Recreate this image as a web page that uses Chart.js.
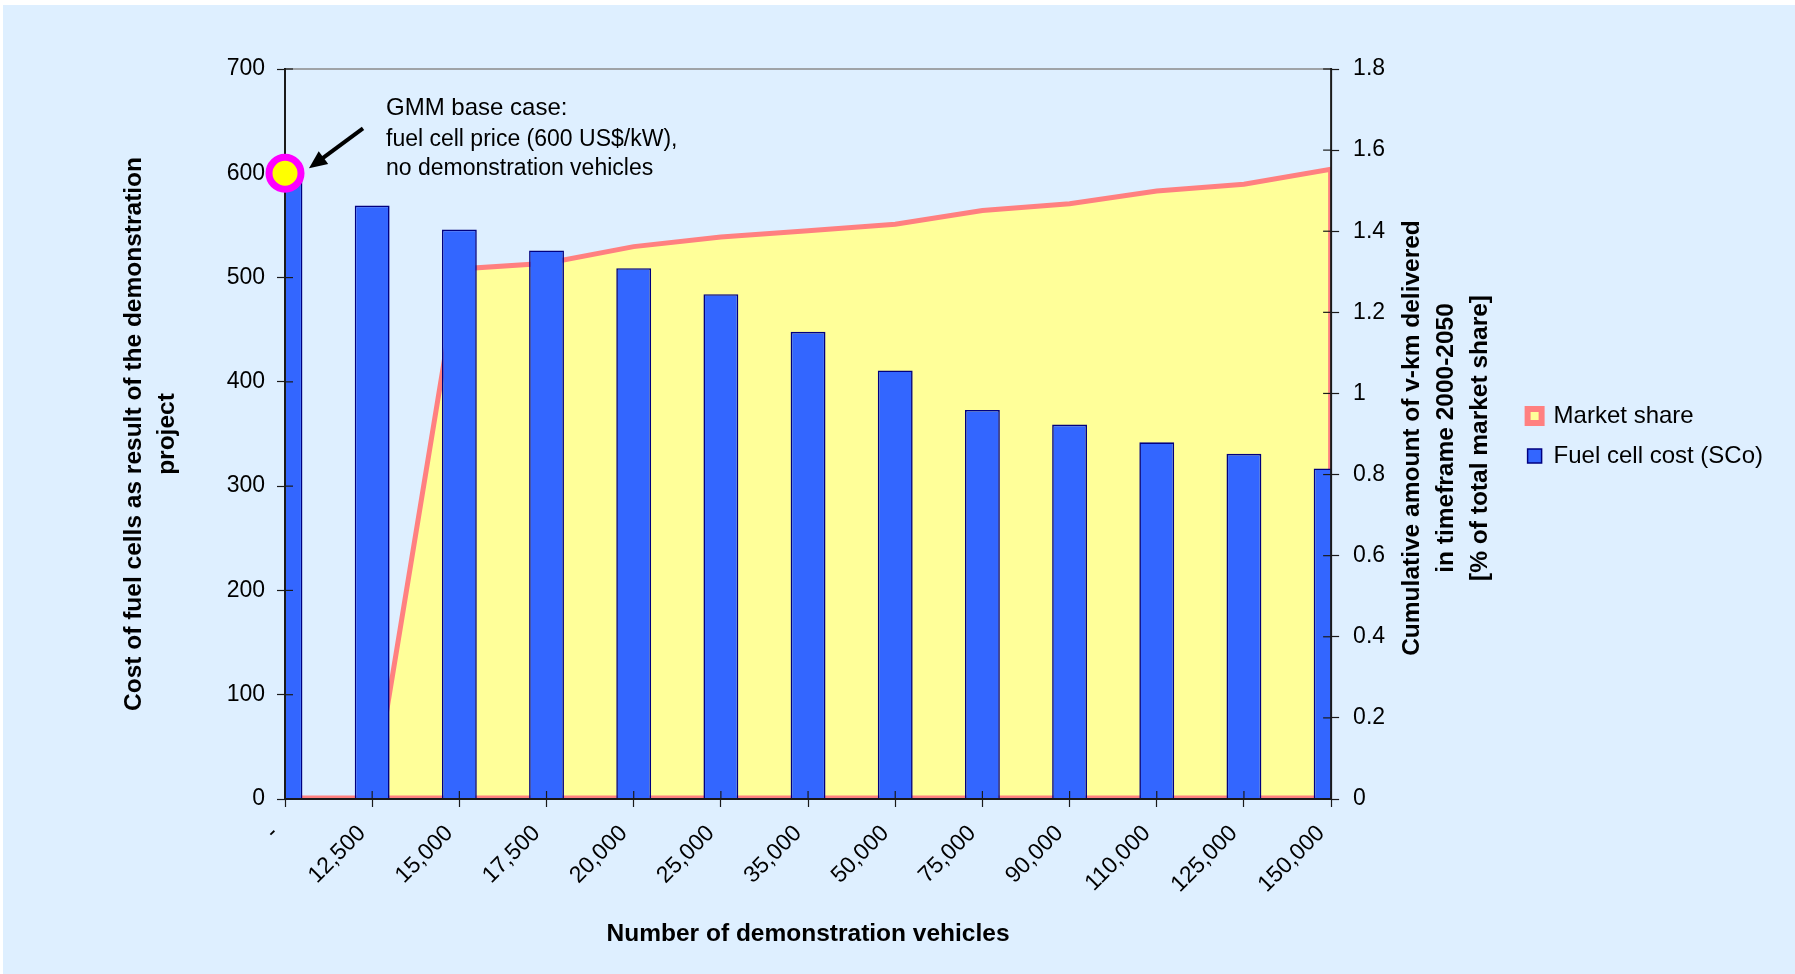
<!DOCTYPE html>
<html>
<head>
<meta charset="utf-8">
<title>Fuel cell cost vs. demonstration vehicles</title>
<script src="https://cdn.jsdelivr.net/npm/chart.js@4.4.1/dist/chart.umd.min.js"></script>
<style>
  body { margin: 0; background: #fff; }
  canvas { display: block; }
</style>
</head>
<body>
<canvas id="myChart" width="1795" height="974"></canvas>
<script>
// number of demonstration vehicles
const categories = ['-', '12,500', '15,000', '17,500', '20,000', '25,000', '35,000', '50,000', '75,000', '90,000', '110,000', '125,000', '150,000'];

// fuel cell cost (US$/kW), left axis
const fuelCellCost = [600, 569, 546, 526, 509, 484, 448, 411, 373, 359, 342, 331, 317];

// cumulative v-km share 2000-2050 (%), right axis
const marketShare = [0, 0, 1.307, 1.321, 1.362, 1.386, 1.401, 1.417, 1.451, 1.468, 1.499, 1.516, 1.553];

// GMM base case marker: 600 US$/kW with no demonstration vehicles
const baseCase = [600, null, null, null, null, null, null, null, null, null, null, null, null];

const costTicks = [0, 100, 200, 300, 400, 500, 600, 700];
const shareTicks = [0, 0.2, 0.4, 0.6, 0.8, 1, 1.2, 1.4, 1.6, 1.8];

const rightTitle = ['Cumulative amount of v-km delivered', 'in timeframe 2000-2050', '[% of total market share]'];

const FONT = '"Liberation Sans", Arial, Helvetica, sans-serif';
const BG = '#DEEFFF';
const BAR = '#3366FF';
const BAR_EDGE = '#000080';
const AREA = '#FFFF99';
const LINE = '#FF8080';
const AXIS = '#1a1a1a';

Chart.defaults.font.family = FONT;
Chart.defaults.color = '#000';

const line = (ctx, x1, y1, x2, y2) => {
    ctx.beginPath();
    ctx.moveTo(x1, y1);
    ctx.lineTo(x2, y2);
    ctx.stroke();
};

// axes, top edge and the inner half of the tick marks
const drawFrame = (chart) => {
    const { ctx, chartArea: a, scales } = chart;
    ctx.save();
    ctx.lineCap = 'butt';
    ctx.strokeStyle = '#8a8a8a';
    ctx.lineWidth = 1.5;
    line(ctx, a.left, a.top, a.right, a.top);

    ctx.strokeStyle = AXIS;
    ctx.lineWidth = 2;
    line(ctx, a.left, a.top - 1, a.left, a.bottom + 1);
    line(ctx, a.right, a.top - 1, a.right, a.bottom + 1);
    line(ctx, a.left, a.bottom, a.right, a.bottom);

    ctx.lineWidth = 1.2;
    costTicks.forEach((v) => {
        const py = scales.y.getPixelForValue(v);
        line(ctx, a.left, py, a.left + 8, py);
    });
    shareTicks.forEach((v) => {
        const py = scales.y1.getPixelForValue(v);
        line(ctx, a.right - 8, py, a.right, py);
    });
    categories.forEach((c, i) => {
        const px = scales.x.getPixelForValue(i);
        line(ctx, px, a.bottom - 8, px, a.bottom);
    });
    ctx.restore();
};

const chartDecor = {
    id: 'chartDecor',
    beforeDraw(chart) {
        const ctx = chart.ctx;
        ctx.save();
        ctx.fillStyle = '#fff';
        ctx.fillRect(0, 0, chart.width, chart.height);
        ctx.fillStyle = BG;
        ctx.fillRect(3, 5, chart.width - 3, chart.height - 5);
        ctx.restore();
    },
    afterDatasetDraw(chart, args) {
        const { ctx, chartArea: a, scales } = chart;
        if (args.meta.label === 'Market share') {
            // outline of the area along the base and the right edge
            const y0 = scales.y1.getPixelForValue(0);
            const yEnd = scales.y1.getPixelForValue(marketShare[marketShare.length - 1]);
            ctx.save();
            ctx.strokeStyle = LINE;
            ctx.lineWidth = 2.6;
            line(ctx, a.left, y0 - 2.2, a.right, y0 - 2.2);
            ctx.lineWidth = 3;
            line(ctx, a.right - 1.5, y0, a.right - 1.5, yEnd);
            ctx.restore();
        }
        if (args.meta.label === 'Fuel cell cost (SCo)') {
            drawFrame(chart);
        }
    },
    afterDraw(chart) {
        const { ctx, scales } = chart;
        const y1 = scales.y1;
        ctx.save();
        ctx.fillStyle = '#000';

        // right axis title, reading upwards
        const cy = (y1.top + y1.bottom) / 2 + 4;
        ctx.font = 'bold 24.5px ' + FONT;
        ctx.textAlign = 'center';
        ctx.textBaseline = 'middle';
        rightTitle.forEach((t, i) => {
            ctx.save();
            ctx.translate(y1.left + 81 + i * 34, cy);
            ctx.rotate(-Math.PI / 2);
            ctx.fillText(t, 0, 0);
            ctx.restore();
        });

        // base case note with arrow
        const px = scales.x.getPixelForValue(0);
        const py = scales.y.getPixelForValue(baseCase[0]);
        ctx.textAlign = 'left';
        ctx.textBaseline = 'alphabetic';
        ctx.font = '24px ' + FONT;
        ctx.fillText('GMM base case:', px + 101, py - 58);
        ctx.font = '23px ' + FONT;
        ctx.fillText('fuel cell price (600 US$/kW),', px + 101, py - 27);
        ctx.fillText('no demonstration vehicles', px + 101, py + 2);

        const tail = { x: px + 78, y: py - 45 };
        const tip = { x: px + 24, y: py - 5 };
        const ang = Math.atan2(tip.y - tail.y, tip.x - tail.x);
        const ux = Math.cos(ang), uy = Math.sin(ang);
        ctx.strokeStyle = '#000';
        ctx.lineWidth = 4;
        line(ctx, tail.x, tail.y, tip.x - ux * 12, tip.y - uy * 12);
        ctx.beginPath();
        ctx.moveTo(tip.x, tip.y);
        ctx.lineTo(tip.x - ux * 18 - uy * 8, tip.y - uy * 18 + ux * 8);
        ctx.lineTo(tip.x - ux * 18 + uy * 8, tip.y - uy * 18 - ux * 8);
        ctx.closePath();
        ctx.fill();
        ctx.restore();
    }
};

const gridOpts = {
    drawOnChartArea: false,
    drawTicks: true,
    tickLength: 8,
    tickColor: AXIS,
    tickWidth: 1.2,
    offset: false
};

const ctx = document.getElementById('myChart');

const myChart = new Chart(ctx, {
    type: 'bar',
    data: {
        labels: categories,
        datasets: [
            {
                type: 'line',
                label: 'Market share',
                data: marketShare,
                yAxisID: 'y1',
                borderColor: LINE,
                borderWidth: 5,
                backgroundColor: AREA,
                fill: 'origin',
                pointRadius: 0,
                tension: 0,
                clip: { left: 0, top: 5, right: 0, bottom: 0 },
                order: 3
            },
            {
                label: 'Fuel cell cost (SCo)',
                data: fuelCellCost,
                yAxisID: 'y',
                backgroundColor: BAR,
                borderColor: BAR_EDGE,
                borderWidth: 1.6,
                borderSkipped: 'start',
                categoryPercentage: 1,
                barPercentage: 0.4,
                order: 2
            },
            {
                type: 'line',
                label: 'GMM base case',
                data: baseCase,
                yAxisID: 'y',
                showLine: false,
                pointRadius: 16,
                pointBorderWidth: 7,
                pointBackgroundColor: '#FFFF00',
                pointBorderColor: '#FF00FF',
                clip: false,
                order: 1
            }
        ]
    },
    options: {
        responsive: false,
        devicePixelRatio: 1,
        animation: false,
        events: [],
        layout: { padding: { left: 10, right: 22, top: 69, bottom: 10 } },
        scales: {
            x: {
                offset: false,
                grid: gridOpts,
                border: { display: false },
                ticks: {
                    autoSkip: false,
                    minRotation: 45,
                    maxRotation: 45,
                    padding: 13,
                    labelOffset: -10,
                    font: { size: 23 }
                },
                title: {
                    display: true,
                    text: 'Number of demonstration vehicles',
                    font: { size: 24.5, weight: 'bold' },
                    padding: { top: 0, bottom: 15 }
                },
                afterFit: (s) => { s.height = 165; }
            },
            y: {
                position: 'left',
                min: 0,
                max: 700,
                grid: gridOpts,
                border: { display: false },
                afterBuildTicks: (s) => { s.ticks = costTicks.map((v) => ({ value: v })); },
                ticks: {
                    padding: 12,
                    font: { size: 23 },
                    callback: (v) => String(v)
                },
                title: {
                    display: true,
                    text: ['Cost of fuel cells as result of the demonstration', 'project'],
                    font: { size: 24.5, weight: 'bold', lineHeight: 33 / 24.5 },
                    padding: { top: 107.5, bottom: 0 }
                },
                afterFit: (s) => { s.width = 275; }
            },
            y1: {
                position: 'right',
                min: 0,
                max: 1.8,
                grid: gridOpts,
                border: { display: false },
                afterBuildTicks: (s) => { s.ticks = shareTicks.map((v) => ({ value: v })); },
                ticks: {
                    padding: 14,
                    font: { size: 23 },
                    callback: (v) => String(Math.round(v * 10) / 10)
                },
                afterFit: (s) => { s.width = 180.5; }
            }
        },
        plugins: {
            tooltip: { enabled: false },
            legend: {
                position: 'right',
                align: 'center',
                fullSize: false,
                title: { display: true, text: '', padding: 0, font: { size: 4, lineHeight: 1 } },
                labels: {
                    boxWidth: 14,
                    boxHeight: 14,
                    padding: 16,
                    color: '#000',
                    font: { size: 24 },
                    generateLabels: () => [
                        { text: 'Market share', fillStyle: AREA, strokeStyle: LINE, lineWidth: 6, datasetIndex: 0, hidden: false },
                        { text: 'Fuel cell cost (SCo)', fillStyle: BAR, strokeStyle: BAR_EDGE, lineWidth: 1.5, datasetIndex: 1, hidden: false }
                    ]
                }
            }
        }
    },
    plugins: [chartDecor]
});
</script>
</body>
</html>
